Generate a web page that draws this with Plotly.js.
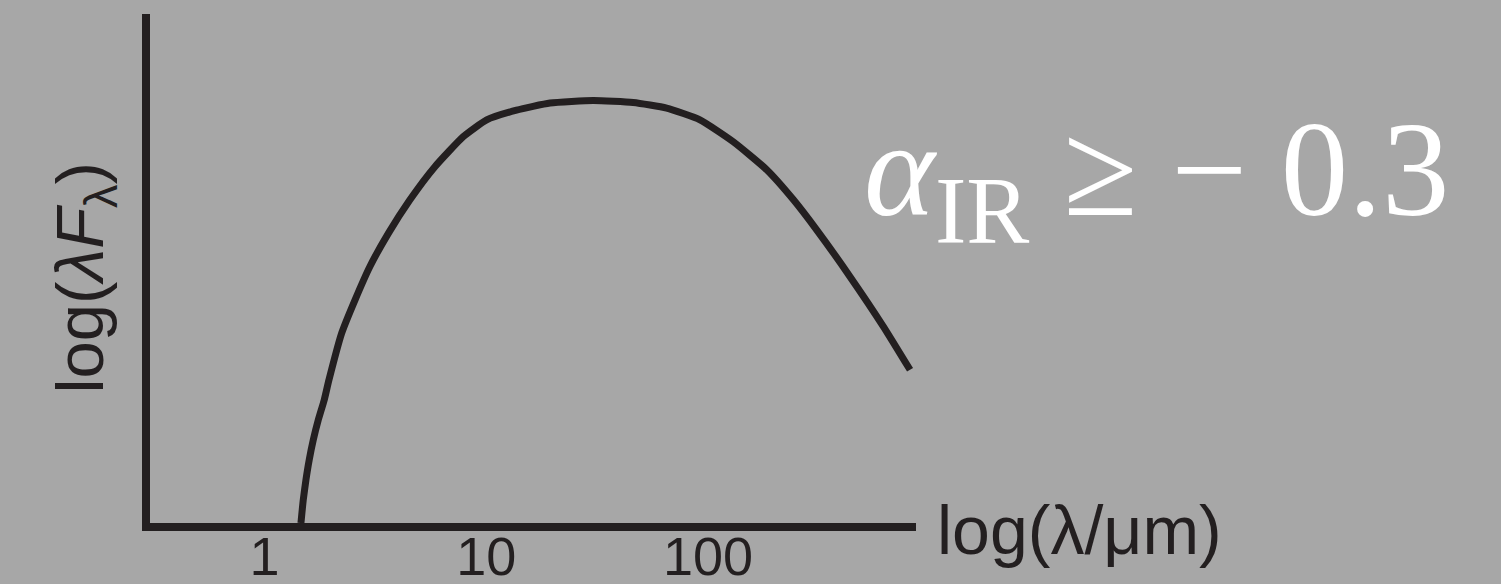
<!DOCTYPE html>
<html>
<head>
<meta charset="utf-8">
<script src="https://cdn.plot.ly/plotly-3.0.1.min.js"></script>
<style>
  html, body { margin: 0; padding: 0; background: #a7a7a7; }
  #sed { width: 1501px; height: 584px; }
</style>
</head>
<body>
<div id="sed"></div>
<script>
// wavelength in micron
let wavelength = [1.461, 1.496, 1.539, 1.592, 1.660, 1.748, 1.861, 1.954, 2.23, 2.56, 2.99, 3.62, 4.53, 5.87, 7.88, 10.05,
    13.7, 19.4, 30.4, 46.0, 65.1, 92.0, 130, 184, 243, 309, 437, 618, 815];
// log(lambda F_lambda), arbitrary units (no scale on the figure)
let logFlux = [0, 0.45, 0.85, 1.24, 1.63, 2.02, 2.42, 2.81, 3.73, 4.38, 5.04, 5.69, 6.35, 7.00, 7.59, 7.92,
    8.11, 8.25, 8.30, 8.26, 8.15, 7.92, 7.49, 6.94, 6.35, 5.76, 4.84, 3.86, 3.01];

let tickVals = [1, 10, 100];
let tickText = ['1', '10', '100'];

const ink = '#231f20';
const sans = 'Liberation Sans, Arial, sans-serif';

let traces = [
    {
        x: wavelength,
        y: logFlux,
        type: 'scatter',
        mode: 'lines',
        line: {color: ink, width: 7, shape: 'spline', smoothing: 0.5},
        hoverinfo: 'skip',
    },
];

let layout = {
    width: 1501,
    height: 584,
    paper_bgcolor: '#a7a7a7',
    plot_bgcolor: '#a7a7a7',
    showlegend: false,
    margin: {l: 150, r: 585, t: 14, b: 61},
    xaxis: {
        type: 'log',
        range: [-0.516, 2.938],
        showgrid: false,
        zeroline: false,
        showline: true,
        linecolor: ink,
        linewidth: 8,
        ticks: '',
        tickvals: tickVals,
        ticktext: tickText,
        ticklabelstandoff: -21,
        tickfont: {family: sans, size: 54, color: ink},
    },
    yaxis: {
        range: [0, 10],
        showgrid: false,
        zeroline: false,
        showline: true,
        linecolor: ink,
        linewidth: 8,
        ticks: '',
        showticklabels: false,
        title: {
            text: 'log(<i>λF</i><sub>λ</sub>)&nbsp;',
            font: {family: sans, size: 67, color: ink},
            standoff: 20,
        },
    },
    annotations: [
        {
            xref: 'paper', yref: 'paper',
            x: 1.025, y: -0.014,
            xanchor: 'left', yanchor: 'middle',
            showarrow: false,
            text: 'log(λ/μm)',
            font: {family: sans, size: 68, color: ink},
        },
        {
            xref: 'paper', yref: 'paper',
            x: 0.930, y: 0.676,
            xanchor: 'left', yanchor: 'middle',
            showarrow: false,
            text: '<i>α</i><sub>IR</sub> ≥ − 0.3',
            font: {family: 'Liberation Serif, Times New Roman, serif', size: 135, color: '#ffffff'},
        },
    ],
};

Plotly.newPlot('sed', traces, layout, {displayModeBar: false, staticPlot: true});
</script>
</body>
</html>
